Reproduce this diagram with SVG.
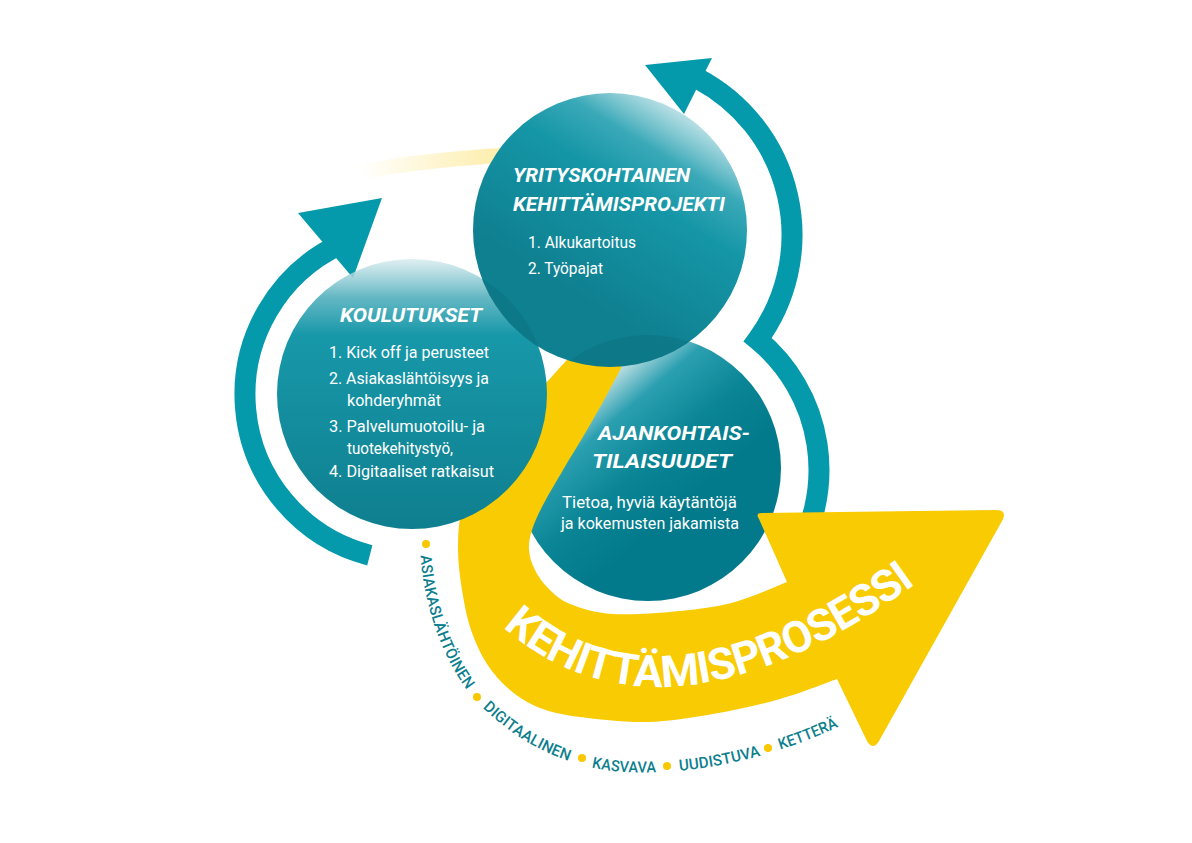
<svg xmlns="http://www.w3.org/2000/svg" width="1192" height="843" viewBox="0 0 1192 843">
<style>
.title{font-family:Roboto,"Liberation Sans",sans-serif;font-weight:700;font-style:italic;font-size:20px;fill:#fff}
.body{font-family:Roboto,"Liberation Sans",sans-serif;font-weight:400;font-size:17px;fill:#fff}
.kw{font-family:Roboto,"Liberation Sans",sans-serif;font-weight:500;font-size:15.5px;fill:#0d7f8e}
.big{font-family:Roboto,"Liberation Sans",sans-serif;font-weight:700;font-size:44px;fill:#fff}
.ring{fill:none;stroke:#049aab;stroke-width:21;stroke-linejoin:miter}
.head{fill:#049aab}
.dot{fill:#f9c800}
</style>
<defs>
<linearGradient id="gC1" x1="0" y1="0" x2="0" y2="1">
<stop offset="0" stop-color="#d6ebee" stop-opacity="0.8"/>
<stop offset="0.14" stop-color="#5db4c1" stop-opacity="0.95"/>
<stop offset="0.28" stop-color="#1798a9"/>
<stop offset="1" stop-color="#0f7f8f"/>
</linearGradient>
<linearGradient id="gC2" x1="0.85" y1="0.02" x2="0.4" y2="0.75">
<stop offset="0" stop-color="#f4f9fa" stop-opacity="0.85"/>
<stop offset="0.3" stop-color="#3aa9b8"/>
<stop offset="0.5" stop-color="#1596a7"/>
<stop offset="1" stop-color="#0f8090"/>
</linearGradient>
<linearGradient id="gC3" x1="0.3" y1="0.15" x2="0.68" y2="0.6">
<stop offset="0" stop-color="#e6f1f3"/>
<stop offset="0.3" stop-color="#2a9fb0"/>
<stop offset="0.65" stop-color="#0a8595"/>
<stop offset="1" stop-color="#027a8b"/>
</linearGradient>
<linearGradient id="gTail" gradientUnits="userSpaceOnUse" x1="360" y1="0" x2="500" y2="0">
<stop offset="0" stop-color="#f9cb00" stop-opacity="0"/>
<stop offset="1" stop-color="#f9cb00" stop-opacity="0.33"/>
</linearGradient>
<clipPath id="cpC2"><circle cx="610" cy="230" r="137"/></clipPath>
<path id="bigPath" d="M 503,627 C 620,730 770,690 918,582"/>
<path id="kwPath" d="M 425,535 C 424,600 450,672 490,708 C 530,744 575,764 625,767 C 700,771 780,750 845,718"/>
</defs>

<g id="connectors">
<path class="ring" d="M 369.8,555.3 A 166,166 0 0 1 341.8,243.6"/>
<polygon class="head" points="298,213 382,198 353,278"/>
<path class="ring" d="M 698.1,78.7 A 177,177 0 0 1 757.7,339.7 A 169,169 0 0 1 791.7,562"/>
<polygon class="head" points="645,65 712,58 684,114"/>
</g>

<g id="node-ajankohtais">
<circle cx="648" cy="468" r="133" fill="url(#gC3)"/>
</g>

<g id="process-arrow">
<path d="M 362,172 Q 420,160 510,155" fill="none" stroke="url(#gTail)" stroke-width="15"/>
<path fill="#f9cb03" d="M 787,582 L 759,519 Q 755,513 762,513 L 996,510 Q 1008,510 1002,521 L 879,741 Q 873,751 867,741 L 837,679
C 827.5,682.3 800.7,693.2 780,699
C 759.3,704.8 735.2,710.2 713,714
C 690.8,717.8 669.2,721.5 647,722
C 624.8,722.5 597.8,719.3 580,717
C 562.2,714.7 551.7,712.5 540,708
C 528.3,703.5 518.8,697.3 510,690
C 501.2,682.7 493.5,674 487,664
C 480.5,654 475.2,642.3 471,630
C 466.8,617.7 464.2,603.7 462,590
C 459.8,576.3 458,561.7 458,548
C 458,534.3 458.7,521 462,508
C 465.3,495 471.7,481.3 478,470
C 484.3,458.7 491.8,450.8 500,440
C 508.2,429.2 517.7,416.3 527,405
C 536.3,393.7 545.5,383.7 556,372
C 566.5,360.3 584.3,341.2 590,335
L 638,322
C 636.5,326.7 632,342 629,350
C 626,358 624.2,361.7 620,370
C 615.8,378.3 609.5,390 604,400
C 598.5,410 593.8,418.3 587,430
C 580.2,441.7 570.3,457.5 563,470
C 555.7,482.5 548.2,495 543,505
C 537.8,515 534.3,522.5 532,530
C 529.7,537.5 528.5,543.3 529,550
C 529.5,556.7 531.8,563.7 535,570
C 538.2,576.3 542.2,582.3 548,588
C 553.8,593.7 559.2,599.7 570,604
C 580.8,608.3 594.7,612.8 613,614
C 631.3,615.2 659.7,613 680,611
C 700.3,609 717.2,606.8 735,602
C 752.8,597.2 778.3,585.3 787,582 Z"/>
<text class="big"><textPath href="#bigPath" textLength="452" lengthAdjust="spacing">KEHITTÄMISPROSESSI</textPath></text>
</g>

<g id="node-koulutukset">
<circle cx="412" cy="394" r="135" fill="url(#gC1)"/>
</g>

<g id="node-yrityskohtainen">
<circle cx="610" cy="230" r="137" fill="url(#gC2)"/>
<circle cx="412" cy="394" r="135" fill="#05505c" opacity="0.16" clip-path="url(#cpC2)"/>
<circle cx="648" cy="468" r="133" fill="#05505c" opacity="0.16" clip-path="url(#cpC2)"/>
</g>

<g id="labels">
<text class="title" x="340" y="322" textLength="142" lengthAdjust="spacingAndGlyphs">KOULUTUKSET</text>
<text class="body" x="329" y="358" textLength="160" lengthAdjust="spacingAndGlyphs">1. Kick off ja perusteet</text>
<text class="body" x="329" y="384" textLength="160" lengthAdjust="spacingAndGlyphs">2. Asiakaslähtöisyys ja</text>
<text class="body" x="347" y="406" textLength="94" lengthAdjust="spacingAndGlyphs">kohderyhmät</text>
<text class="body" x="329" y="432" textLength="156" lengthAdjust="spacingAndGlyphs">3. Palvelumuotoilu- ja</text>
<text class="body" x="347" y="454" textLength="106" lengthAdjust="spacingAndGlyphs">tuotekehitystyö,</text>
<text class="body" x="329" y="477" textLength="165" lengthAdjust="spacingAndGlyphs">4. Digitaaliset ratkaisut</text>

<text class="title" x="513" y="182" textLength="177" lengthAdjust="spacingAndGlyphs">YRITYSKOHTAINEN</text>
<text class="title" x="513" y="211" textLength="212" lengthAdjust="spacingAndGlyphs">KEHITTÄMISPROJEKTI</text>
<text class="body" x="528" y="248" textLength="108" lengthAdjust="spacingAndGlyphs">1. Alkukartoitus</text>
<text class="body" x="528" y="274" textLength="75" lengthAdjust="spacingAndGlyphs">2. Työpajat</text>

<text class="title" x="598" y="440" textLength="152" lengthAdjust="spacingAndGlyphs">AJANKOHTAIS-</text>
<text class="title" x="592" y="468" textLength="140" lengthAdjust="spacingAndGlyphs">TILAISUUDET</text>
<text class="body" x="562" y="508" textLength="175" lengthAdjust="spacingAndGlyphs">Tietoa, hyviä käytäntöjä</text>
<text class="body" x="561" y="529" textLength="178" lengthAdjust="spacingAndGlyphs">ja kokemusten jakamista</text>
</g>

<g id="keywords">
<circle class="dot" cx="426" cy="544" r="4"/>
<circle class="dot" cx="477" cy="697" r="4"/>
<circle class="dot" cx="582" cy="758" r="4"/>
<circle class="dot" cx="667" cy="766" r="4"/>
<circle class="dot" cx="768" cy="748" r="4"/>
<text class="kw" dominant-baseline="central"><textPath href="#kwPath" startOffset="20" textLength="141" lengthAdjust="spacingAndGlyphs">ASIAKASLÄHTÖINEN</textPath></text>
<text class="kw" dominant-baseline="central"><textPath href="#kwPath" startOffset="184" textLength="100" lengthAdjust="spacingAndGlyphs">DIGITAALINEN</textPath></text>
<text class="kw" dominant-baseline="central"><textPath href="#kwPath" startOffset="307" textLength="64" lengthAdjust="spacingAndGlyphs">KASVAVA</textPath></text>
<text class="kw" dominant-baseline="central"><textPath href="#kwPath" startOffset="394" textLength="82" lengthAdjust="spacingAndGlyphs">UUDISTUVA</textPath></text>
<text class="kw" dominant-baseline="central"><textPath href="#kwPath" startOffset="496" textLength="62" lengthAdjust="spacingAndGlyphs">KETTERÄ</textPath></text>
</g>
</svg>
